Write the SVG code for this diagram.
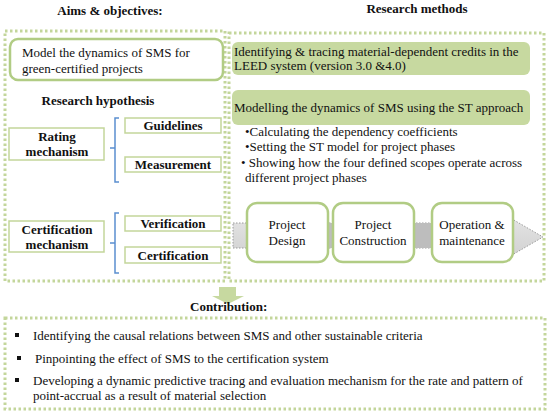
<svg xmlns="http://www.w3.org/2000/svg" width="550" height="415" viewBox="0 0 550 415">
<style>
.t{font-size:13px;fill:#111}
.b{font-size:13px;font-weight:bold;fill:#111}
.dot{fill:none;stroke:#c3d69b;stroke-width:3;stroke-dasharray:2.5 2.5}
.rb{fill:#fff;stroke:#b1cc84;stroke-width:2.5}
.gb{fill:#c7d9a0;stroke:none}
.sb{fill:#fff;stroke:#c3d69b;stroke-width:1.5}
.br{fill:none;stroke:#5b8fd0;stroke-width:1.5}
.pb{fill:#fff;stroke:#b1cc84;stroke-width:2.5}
</style>
<defs>
<linearGradient id="ga" x1="0" y1="0" x2="0" y2="1">
<stop offset="0" stop-color="#e6e6e6"/><stop offset="1" stop-color="#cfcfcf"/>
</linearGradient>
</defs>
<g font-family="Liberation Serif, Times New Roman, serif">
<text class="b" x="110" y="15" text-anchor="middle">Aims &amp; objectives:</text>
<text class="b" x="417" y="13" text-anchor="middle">Research methods</text>

<g id="frames">
<rect class="dot" x="5" y="31" width="220" height="250"/>
<rect class="dot" x="229" y="33" width="315" height="248"/>
<rect class="dot" x="5" y="318" width="540" height="91"/>
</g>

<g id="model"><rect class="rb" x="10" y="39" width="213" height="41" rx="8"/>
<text class="t" x="22" y="57">Model the dynamics of SMS for</text>
<text class="t" x="22" y="73">green-certified  projects</text></g>

<text class="b" x="98" y="105" text-anchor="middle">Research hypothesis</text>

<g id="rating"><rect class="sb" x="9" y="128" width="95" height="32"/>
<text class="b" x="57" y="141" text-anchor="middle">Rating</text>
<text class="b" x="57" y="156" text-anchor="middle">mechanism</text></g>
<g id="guidelines"><rect class="sb" x="125" y="118" width="96" height="15"/>
<text class="b" x="173" y="130" text-anchor="middle">Guidelines</text></g>
<g id="measurement"><rect class="sb" x="125" y="157" width="96" height="15"/>
<text class="b" x="173" y="169" text-anchor="middle">Measurement</text></g>

<g id="certmech"><rect class="sb" x="9" y="221" width="95" height="31"/>
<text class="b" x="57" y="234" text-anchor="middle">Certification</text>
<text class="b" x="57" y="249" text-anchor="middle">mechanism</text></g>
<g id="verification"><rect class="sb" x="125" y="216" width="96" height="15"/>
<text class="b" x="173" y="228" text-anchor="middle">Verification</text></g>
<g id="certification"><rect class="sb" x="125" y="247" width="96" height="16"/>
<text class="b" x="173" y="260" text-anchor="middle">Certification</text></g>

<g id="connectors">
<path class="br" d="M119,118 H115 V148 L110,148 M115,148 V182 H119"/>
<path class="br" d="M119,213 H115 V243 L110,243 M115,243 V273 H119"/>
<path d="M233,223 H500 V212 L543,237 L500,262 V248 H233 Z" fill="url(#ga)" stroke="#9a9a9a" stroke-width="1" stroke-dasharray="1.5 1.5"/>
<rect x="328" y="223" width="104" height="25" fill="#bdbdbd"/>
<path d="M219,287 H236 V296 H244 L228,304 L212,296 H219 Z" fill="#c7d9a0"/>
</g>

<g id="identify"><rect class="gb" x="232" y="42" width="298" height="33" rx="6"/>
<text class="t" x="234" y="56">Identifying  &amp; tracing material-dependent  credits in the</text>
<text class="t" x="234" y="70">LEED system (version 3.0  &amp;4.0)</text></g>
<g id="modelling"><rect class="gb" x="232" y="90" width="298" height="35" rx="6"/>
<text class="t" x="234" y="112">Modelling  the dynamics of SMS using the ST approach</text></g>

<g id="methods">
<text class="t" x="245" y="136">•Calculating  the dependency coefficients</text>
<text class="t" x="245" y="151">•Setting the ST model for project phases</text>
<text class="t" x="241" y="167">• Showing how the four defined scopes operate across</text>
<text class="t" x="245" y="182">different  project phases</text>
</g>

<g id="design"><rect class="pb" x="247" y="203" width="81" height="59" rx="10"/>
<text class="t" x="287" y="229" text-anchor="middle">Project</text>
<text class="t" x="287" y="245" text-anchor="middle">Design</text></g>
<g id="construction"><rect class="pb" x="333" y="203" width="81" height="59" rx="10"/>
<text class="t" x="373" y="229" text-anchor="middle">Project</text>
<text class="t" x="373" y="245" text-anchor="middle">Construction</text></g>
<g id="operation"><rect class="pb" x="432" y="203" width="81" height="59" rx="10"/>
<text class="t" x="472" y="229" text-anchor="middle">Operation &amp;</text>
<text class="t" x="472" y="245" text-anchor="middle">maintenance</text></g>

<text class="b" x="190" y="311">Contribution:</text>

<g id="contrib">
<rect x="15" y="333" width="4" height="4" fill="#111"/>
<text class="t" x="33" y="340">Identifying  the causal relations  between  SMS and other sustainable  criteria</text>
<rect x="17" y="356" width="4" height="4" fill="#111"/>
<text class="t" x="35" y="363">Pinpointing  the effect of SMS to the certification  system</text>
<rect x="15" y="378" width="4" height="4" fill="#111"/>
<text class="t" x="33" y="385">Developing  a dynamic predictive tracing and evaluation  mechanism  for the rate and pattern of</text>
<text class="t" x="33" y="400">point-accrual as a result of material  selection</text>
</g>
</g>
</svg>
